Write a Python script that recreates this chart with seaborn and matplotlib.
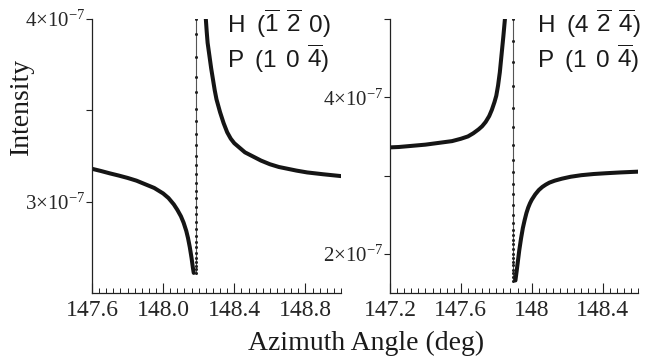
import numpy as np
import pandas as pd
import matplotlib
matplotlib.use("Agg")
import matplotlib.pyplot as plt
from matplotlib.ticker import MultipleLocator, FixedLocator, FixedFormatter
import seaborn as sns

# ---------------- data (intensity in units of 1e-7) ----------------
# Left panel: H(-1 -2 0), P(1 0 -4)
left_lo_x = [147.60, 147.65, 147.70, 147.75, 147.80, 147.85, 147.90, 147.95,
             148.00, 148.03, 148.06, 148.08, 148.10, 148.115, 148.13, 148.14,
             148.15, 148.16, 148.167, 148.172]
left_lo_y = [3.18, 3.168, 3.155, 3.143, 3.13, 3.115, 3.095, 3.075,
             3.045, 3.02, 2.985, 2.955, 2.92, 2.885, 2.84, 2.80,
             2.75, 2.69, 2.64, 2.61]
left_hi_x = [148.236, 148.24, 148.245, 148.25, 148.26, 148.27, 148.28, 148.29,
             148.30, 148.32, 148.34, 148.36, 148.38, 148.40, 148.43, 148.46,
             148.50, 148.55, 148.60, 148.65, 148.70, 148.75, 148.81, 148.90, 149.0]
left_hi_y = [4.06, 4.0, 3.93, 3.87, 3.80, 3.73, 3.67, 3.61,
             3.56, 3.49, 3.43, 3.38, 3.345, 3.32, 3.295, 3.27,
             3.25, 3.225, 3.205, 3.19, 3.18, 3.17, 3.16, 3.15, 3.14]
left_res_x = 148.186
left_res_y = [4.1, 4.0, 3.92, 3.79, 3.68, 3.60, 3.51, 3.44, 3.37, 3.31, 3.25,
              3.20, 3.15, 3.10, 3.06, 3.02, 2.97, 2.93, 2.89, 2.85, 2.81,
              2.78, 2.75, 2.72, 2.69, 2.67, 2.65, 2.63, 2.61]

# Right panel: H(4 -2 -4), P(1 0 -4)
right_lo_x = [147.20, 147.25, 147.30, 147.35, 147.40, 147.45, 147.50, 147.55,
              147.60, 147.64, 147.67, 147.70, 147.72, 147.74, 147.76, 147.775,
              147.79, 147.80, 147.81, 147.82, 147.83, 147.84, 147.85, 147.855]
right_lo_y = [3.36, 3.365, 3.375, 3.385, 3.395, 3.41, 3.425, 3.44,
              3.47, 3.50, 3.54, 3.59, 3.63, 3.685, 3.76, 3.84,
              3.94, 4.02, 4.15, 4.32, 4.55, 4.78, 5.03, 5.15]
right_hi_x = [147.908, 147.915, 147.92, 147.93, 147.94, 147.95, 147.96, 147.97,
              147.98, 147.99, 148.00, 148.02, 148.04, 148.06, 148.08, 148.10,
              148.13, 148.17, 148.22, 148.28, 148.35, 148.42, 148.50, 148.60]
right_hi_y = [1.66, 1.78, 1.87, 2.05, 2.20, 2.33, 2.43, 2.52,
              2.59, 2.645, 2.69, 2.76, 2.815, 2.855, 2.885, 2.91,
              2.935, 2.96, 2.985, 3.005, 3.02, 3.03, 3.04, 3.05]
right_res_x = 147.893
right_res_y = [5.1, 5.0, 4.72, 4.45, 4.15, 3.86, 3.62, 3.39, 3.20, 3.04, 2.89,
               2.76, 2.62, 2.50, 2.40, 2.31, 2.24, 2.18, 2.12, 2.06, 2.00,
               1.95, 1.90, 1.86, 1.80, 1.75, 1.70, 1.65]

scale = 1e-7

left_xticks = [147.6, 148.0, 148.4, 148.8]
left_xlabels = ["147.6", "148.0", "148.4", "148.8"]
right_xticks = [147.2, 147.6, 148.0, 148.4]
right_xlabels = ["147.2", "147.6", "148", "148.4"]
left_yticks = [3.0, 3.5, 4.0]
left_ylabels = ["3×10$^{-7}$", "", "4×10$^{-7}$"]
right_yticks = [2.0, 3.0, 4.0, 5.0]
right_ylabels = ["2×10$^{-7}$", "", "4×10$^{-7}$", ""]

left_title = [r"$\mathsf{H\enspace\,(\overline{1}\enspace\overline{2}\enspace0)}$",
              r"$\mathsf{P\enspace\,(1\enspace0\enspace\overline{4})}$"]
right_title = [r"$\mathsf{H\enspace\,(4\enspace\overline{2}\enspace\overline{4})}$",
               r"$\mathsf{P\enspace\,(1\enspace0\enspace\overline{4})}$"]

# ---------------- style ----------------
sns.set_theme(style="ticks")
plt.rcParams["font.family"] = ["Liberation Serif", "DejaVu Serif"]
plt.rcParams["mathtext.fontset"] = "custom"
plt.rcParams["mathtext.rm"] = "Liberation Serif"
plt.rcParams["mathtext.it"] = "Liberation Serif:italic"
plt.rcParams["mathtext.bf"] = "Liberation Serif:bold"
plt.rcParams["mathtext.sf"] = "Liberation Sans"

W, H = 647, 358
fig = plt.figure(figsize=(W / 100, H / 100), dpi=100)
fig.patch.set_facecolor("white")

def px_axes(x0, x1, y0, y1):
    return fig.add_axes([x0 / W, 1 - y1 / H, (x1 - x0) / W, (y1 - y0) / H])

axL = px_axes(92, 341, 19, 293)
axR = px_axes(390, 638, 19, 293)

curve_kw = dict(color="#151515", linewidth=2.9, sort=False, legend=False,
                estimator=None)
res_kw = dict(color="#555555", linewidth=0.8, marker="o", markersize=2.2,
              markeredgewidth=0, markerfacecolor="#222222", sort=False,
              legend=False, estimator=None)

def draw(ax, lo_x, lo_y, hi_x, hi_y, rx, ry):
    d_lo = pd.DataFrame({"x": lo_x, "y": np.array(lo_y) * scale})
    d_hi = pd.DataFrame({"x": hi_x, "y": np.array(hi_y) * scale})
    d_res = pd.DataFrame({"x": [rx] * len(ry), "y": np.array(ry) * scale})
    sns.lineplot(data=d_res, x="x", y="y", ax=ax, **res_kw)
    sns.lineplot(data=d_lo, x="x", y="y", ax=ax, **curve_kw)
    sns.lineplot(data=d_hi, x="x", y="y", ax=ax, **curve_kw)

draw(axL, left_lo_x, left_lo_y, left_hi_x, left_hi_y, left_res_x, left_res_y)
draw(axR, right_lo_x, right_lo_y, right_hi_x, right_hi_y, right_res_x, right_res_y)

axL.set_xlim(147.6, 149.0)
axL.set_ylim(2.5e-7, 4.0e-7)
axR.set_xlim(147.2, 148.6)
axR.set_ylim(1.5e-7, 5.0e-7)

for ax, xt, xl, yt, yl in [(axL, left_xticks, left_xlabels, left_yticks, left_ylabels),
                           (axR, right_xticks, right_xlabels, right_yticks, right_ylabels)]:
    ax.set_xlabel("")
    ax.set_ylabel("")
    ax.set_facecolor("white")
    for s in ["top", "right"]:
        ax.spines[s].set_visible(False)
    for s in ["left", "bottom"]:
        ax.spines[s].set_color("#222222")
        ax.spines[s].set_linewidth(0.9)
    ax.xaxis.set_major_locator(FixedLocator(xt))
    ax.xaxis.set_major_formatter(FixedFormatter(xl))
    ax.xaxis.set_minor_locator(MultipleLocator(0.04))
    ax.yaxis.set_major_locator(FixedLocator([v * scale for v in yt]))
    ax.yaxis.set_major_formatter(FixedFormatter(yl))
    ax.tick_params(axis="x", which="major", direction="in", length=7, width=0.8,
                   color="#222222", labelsize=17, pad=5)
    ax.tick_params(axis="x", which="minor", direction="in", length=3.5, width=0.7,
                   color="#222222")
    ax.tick_params(axis="y", which="major", direction="out", length=4, width=0.8,
                   color="#222222", labelsize=15, pad=1)
    ax.tick_params(axis="y", which="minor", left=False)
    ax.grid(False)

# panel annotations
for (x, lines) in [(227, left_title), (537, right_title)]:
    fig.text(x / W, 1 - 33 / H, lines[0], fontsize=17.5, color="#1a1a1a", va="baseline", ha="left")
    fig.text(x / W, 1 - 68 / H, lines[1], fontsize=17.5, color="#1a1a1a", va="baseline", ha="left")

fig.text(366 / W, 1 - 350 / H, "Azimuth Angle (deg)", fontsize=20, ha="center", va="baseline",
         color="#1a1a1a")
fig.text(21 / W, 1 - 106 / H, "Intensity", fontsize=20, rotation=90, ha="center", va="center",
         color="#1a1a1a")

fig.savefig("out.png", dpi=100, facecolor="white")
